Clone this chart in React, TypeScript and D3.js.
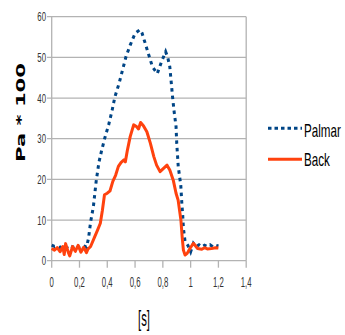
import React from "react";
import * as d3 from "d3";

const xTicks = [0, 0.2, 0.4, 0.6, 0.8, 1, 1.2, 1.4];
const yTicks = [0, 10, 20, 30, 40, 50, 60];

const palmarTime = [0, 0.02, 0.04, 0.06, 0.08, 0.10, 0.12, 0.14, 0.16, 0.18, 0.20, 0.22, 0.24, 0.25, 0.265, 0.28, 0.30, 0.32, 0.34, 0.36, 0.385, 0.41, 0.435, 0.455, 0.485, 0.51, 0.535, 0.565, 0.60, 0.635, 0.65, 0.67, 0.695, 0.725, 0.76, 0.79, 0.82, 0.835, 0.85, 0.86, 0.87, 0.88, 0.895, 0.90, 0.911, 0.929, 0.936, 0.943, 0.948, 0.96, 0.98, 1.0, 1.02, 1.04, 1.06, 1.08, 1.10, 1.12, 1.14, 1.16, 1.18, 1.2];
const palmarValues = [3.8, 3.5, 3.6, 3.2, 3.7, 3.4, 3.0, 3.6, 3.3, 3.8, 3.2, 3.7, 3.5, 3.3, 5.5, 9.5, 13.3, 19.5, 24.2, 27.2, 30.5, 33.4, 37.0, 40.3, 43.6, 46.9, 50.2, 53.0, 55.9, 56.8, 56.0, 53.8, 51.0, 47.7, 46.0, 48.9, 51.4, 50.0, 47.7, 44.0, 40.3, 37.0, 33.0, 28.9, 23.1, 18.6, 14.5, 11.2, 8.0, 4.7, 3.8, 2.2, 4.3, 3.5, 3.9, 3.4, 3.8, 3.5, 3.9, 3.4, 3.8, 3.6];

const backTime = [0, 0.02, 0.04, 0.06, 0.08, 0.09, 0.10, 0.12, 0.13, 0.15, 0.17, 0.19, 0.21, 0.23, 0.25, 0.26, 0.28, 0.31, 0.33, 0.35, 0.365, 0.38, 0.40, 0.42, 0.44, 0.46, 0.48, 0.50, 0.52, 0.53, 0.545, 0.565, 0.59, 0.61, 0.625, 0.64, 0.66, 0.685, 0.71, 0.735, 0.755, 0.78, 0.805, 0.83, 0.85, 0.875, 0.895, 0.91, 0.93, 0.94, 0.948, 0.96, 0.975, 0.995, 1.02, 1.05, 1.08, 1.10, 1.12, 1.15, 1.18, 1.2];
const backValues = [3.0, 2.6, 3.2, 2.2, 3.5, 1.5, 4.2, 2.0, 1.2, 3.5, 2.3, 3.8, 2.1, 3.3, 2.0, 2.8, 3.5, 5.9, 7.5, 9.2, 12.4, 16.2, 16.6, 17.2, 19.5, 21.0, 23.2, 24.2, 24.8, 24.3, 27.2, 30.5, 33.4, 33.0, 32.4, 34.0, 33.2, 31.7, 28.9, 25.6, 23.5, 21.9, 22.7, 23.5, 22.3, 19.8, 16.6, 14.9, 10.0, 5.5, 2.6, 1.4, 1.8, 3.0, 4.3, 3.0, 2.8, 3.2, 2.9, 3.0, 3.2, 3.1];

const seriesNames = ["Palmar", "Back"];

const SANS = "'Liberation Sans', Arial, sans-serif";
const BLUE = "#004586";
const ORANGE = "#ff420e";
const GRID = "#b3b3b3";
const NX = 0.82; // narrow-face horizontal factor

export default function App() {
  const x = d3.scaleLinear().domain([0, 1.4]).range([51.7, 246.2]);
  const y = d3.scaleLinear().domain([0, 60]).range([260.7, 16.7]);
  const line = d3
    .line<[number, number]>()
    .x((d) => x(d[0]))
    .y((d) => y(d[1]));
  const palmar = palmarTime.map((t, i) => [t, palmarValues[i]] as [number, number]);
  const back = backTime.map((t, i) => [t, backValues[i]] as [number, number]);
  const [x0, x1] = x.range();
  const [yb, yt] = y.range();

  return (
    <svg width={345} height={335} style={{ position: "absolute", left: 0, top: 0, background: "#fff" }}>
      {yTicks.map((v) => (
        <line key={"g" + v} x1={47} x2={x1} y1={y(v)} y2={y(v)} stroke={GRID} strokeWidth={1.3} />
      ))}
      <line x1={x0} x2={x0} y1={yt} y2={yb} stroke={GRID} strokeWidth={1.3} />
      <line x1={x1} x2={x1} y1={yt} y2={yb} stroke={GRID} strokeWidth={1.3} />
      {xTicks.map((v) => (
        <line key={"xt" + v} x1={x(v)} x2={x(v)} y1={yb} y2={yb + 7} stroke={GRID} strokeWidth={1.3} />
      ))}
      {yTicks.map((v) => (
        <text
          key={"yl" + v}
          transform={`translate(46,${y(v) + 4.7}) scale(${NX},1.4)`}
          textAnchor="end"
          fontFamily={SANS}
          fontSize={9.5}
          fill="#333"
        >
          {String(v)}
        </text>
      ))}
      {xTicks.map((v) => (
        <text
          key={"xl" + v}
          transform={`translate(${x(v)},287.3) scale(${NX},1.6)`}
          textAnchor="middle"
          fontFamily={SANS}
          fontSize={9.5}
          fill="#333"
        >
          {String(v).replace(".", ",")}
        </text>
      ))}
      <path d={line(palmar) || ""} fill="none" stroke={BLUE} strokeWidth={3} strokeDasharray="3.5 4" />
      <path d={line(back) || ""} fill="none" stroke={ORANGE} strokeWidth={3} strokeLinejoin="round" />
      <text
        transform={`translate(25,${(63 + 162) / 2}) rotate(-90)`}
        textAnchor="middle"
        fontFamily="'DejaVu Sans', sans-serif"
        fontWeight="bold"
        fontSize={13}
        textLength={99}
        lengthAdjust="spacingAndGlyphs"
        fill="#000"
      >
        Pa * 100
      </text>
      <text
        transform={`translate(144,326) scale(${NX},1.6)`}
        textAnchor="middle"
        fontFamily={SANS}
        fontSize={13.8}
        fill="#000"
      >
        [s]
      </text>
      <line x1={268} x2={302} y1={128.3} y2={128.3} stroke={BLUE} strokeWidth={3} strokeDasharray="3.5 3" />
      <text transform={`translate(304,137) scale(${NX},1.28)`} fontFamily={SANS} fontSize={14.2} fill="#000">
        {seriesNames[0]}
      </text>
      <line x1={268} x2={302} y1={159.3} y2={159.3} stroke={ORANGE} strokeWidth={3} />
      <text transform={`translate(304,166) scale(${NX},1.28)`} fontFamily={SANS} fontSize={14.2} fill="#000">
        {seriesNames[1]}
      </text>
    </svg>
  );
}
